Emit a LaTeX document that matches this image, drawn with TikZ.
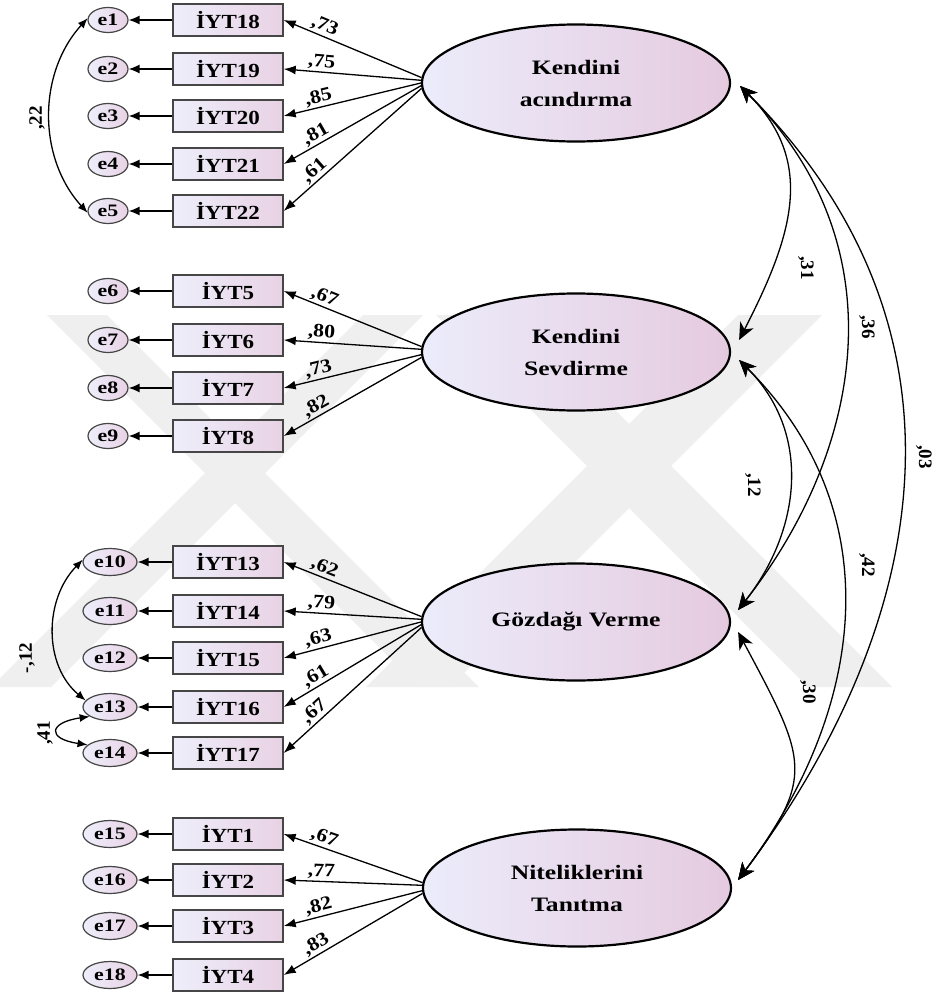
\documentclass[tikz,border=0pt]{standalone}
\usepackage{fontspec}
\setmainfont{Liberation Serif}
\usetikzlibrary{arrows.meta,shapes.geometric,calc}

\definecolor{lavL}{RGB}{238,238,251}
\definecolor{pinkR}{RGB}{232,210,228}
\definecolor{ellL}{RGB}{236,236,251}
\definecolor{ellR}{RGB}{229,202,223}
\definecolor{wmark}{RGB}{239,239,239}
\definecolor{boxline}{RGB}{70,70,70}

% horizontally widened text
\newcommand\wide[2][1.25]{\scalebox{#1}[1]{#2}}

\begin{document}
\begin{tikzpicture}[x=1pt,y=-1pt,
  obs/.style={rectangle, draw=boxline, line width=1.4pt, minimum width=110pt,
    minimum height=32pt, inner sep=0pt, left color=lavL, right color=pinkR,
    font=\fontsize{20}{22}\selectfont\bfseries},
  err/.style={ellipse, draw=boxline, line width=1.2pt, minimum width=40pt,
    minimum height=25pt, inner sep=0pt, left color=lavL, right color=pinkR,
    font=\fontsize{17.5}{18}\selectfont\bfseries},
  errw/.style={err, minimum width=54pt, minimum height=27pt},
  lat/.style={ellipse, draw=black, line width=2.2pt, minimum width=308pt,
    minimum height=117pt, inner sep=0pt, left color=ellL, right color=ellR,
    align=center, font=\fontsize{20.5}{32}\selectfont\bfseries},
  ptr/.style={-{Latex[length=11pt,width=9pt]}, line width=1.5pt},
  ld/.style={-{Latex[length=12pt,width=9pt]}, line width=1.3pt},
  cov/.style={{Stealth[length=17pt,width=15pt,inset=5pt]}-{Stealth[length=17pt,width=15pt,inset=5pt]}, line width=1.3pt},
  ecov/.style={{Latex[length=10pt,width=8pt]}-{Latex[length=10pt,width=8pt]}, line width=1.3pt},
  coef/.style={font=\fontsize{19}{20}\selectfont\bfseries, inner sep=1.5pt},
]
\useasboundingbox (0,0) rectangle (935,993);

% faint background emblem
\begin{scope}
  \clip (0,0) rectangle (935,993);
  \fill[wmark] (47,315) -- (107,315) -- (479,687) -- (419,687) -- cycle;
  \fill[wmark] (363,315) -- (423,315) -- (51,687) -- (-9,687) -- cycle;
  \fill[wmark] (738,315) -- (822,315) -- (450,687) -- (366,687) -- cycle;
  \fill[wmark] (436,315) -- (520,315) -- (892,687) -- (808,687) -- cycle;
\end{scope}

% latent factors
\node[lat] (KA) at (576,83)  {\wide{Kendini}\\\wide{acındırma}};
\node[lat] (KS) at (576,352) {\wide{Kendini}\\\wide{Sevdirme}};
\node[lat] (GV) at (576,622) {\wide{Gözdağı Verme}};
\node[lat] (NT) at (577,888) {\wide{Niteliklerini}\\\wide{Tanıtma}};

% indicators with their error terms
\foreach \n/\e/\y in {18/1/20,19/2/69,20/3/116,21/4/164,22/5/211,
                      5/6/291,6/7/340,7/8/388,8/9/436}{
  \node[obs] (b\n) at (228,\y) {\wide[1.15]{İYT\n}};
  \node[err] (e\e) at (108,\y) {\wide[1.25]{e\e}};
  \draw[ptr] (b\n) -- (e\e);
}
\foreach \n/\e/\y in {13/10/562,14/11/611,15/12/658,16/13/707,17/14/753,
                      1/15/834,2/16/880,3/17/926,4/18/975}{
  \node[obs] (b\n) at (228,\y) {\wide[1.15]{İYT\n}};
  \node[errw] (e\e) at (110,\y) {\wide[1.25]{e\e}};
  \draw[ptr] (b\n) -- (e\e);
}

% factor loadings
\foreach \f/\b/\a/\v in {KA/18/178/73, KA/19/179/75, KA/20/180/85,
                          KA/21/181/81, KA/22/182/61,
                          KS/5/178/67, KS/6/179/80, KS/7/181/73, KS/8/182/82,
                          GV/13/178/62, GV/14/179/79, GV/15/180/63,
                          GV/16/181/61, GV/17/182/67,
                          NT/1/178/67, NT/2/179/77, NT/3/181/82, NT/4/182/83}{
  \draw[ld] (\f.\a) -- node[coef, pos=.73, sloped, above] {\wide[1.15]{,\v}} (b\b.east);
}

% factor correlations
\coordinate (KAt) at ($(KA.east)+(9,3)$);
\coordinate (KSa) at ($(KS.east)+(8,-12)$);
\coordinate (KSb) at ($(KS.east)+(8,8)$);
\coordinate (GVa) at ($(GV.east)+(7,-12)$);
\coordinate (GVb) at ($(GV.east)+(7,10)$);
\coordinate (NTt) at ($(NT.east)+(6,-8)$);

\draw[cov] (KAt) .. controls +(75,75) and +(55,-107) .. (KSa);
\draw[cov] (KAt) .. controls +(161,161) and +(124,-158) .. (GVa);
\draw[cov] (KAt) .. controls +(241,241) and +(196,-262) .. (NTt);
\draw[cov] (KSb) .. controls +(73,73) and +(63,-80) .. (GVa);
\draw[cov] (KSb) .. controls +(153,153) and +(127,-170) .. (NTt);
\draw[cov] (GVb) .. controls +(69,129) and +(78,-104) .. (NTt);

\node[coef, rotate=-90] (r31) at (806,268) {,31};
\node[coef, rotate=-90] (r36) at (867,327) {,36};
\node[coef, rotate=-90] (r03) at (924,457) {,03};
\node[coef, rotate=-90] (r12) at (753,485) {,12};
\node[coef, rotate=-90] (r42) at (867,565) {,42};
\node[coef, rotate=-90] (r30) at (808,692) {,30};

% error covariances
\draw[ecov] (e1.175) .. controls +(-50,55) and +(-50,-55) .. (e5.185);
\draw[ecov] (e10.175) .. controls +(-39,40) and +(-42,-35) .. (e13.165);
\draw[ecov] (e13.205) .. controls +(-41,6) and +(-41,-6) .. (e14.160);

\node[coef, rotate=90] (c22) at (37,118) {,22};
\node[coef, rotate=90] (c12) at (27,658) {-,12};
\node[coef, rotate=90] (c41) at (45,733) {,41};
\end{tikzpicture}
\end{document}
